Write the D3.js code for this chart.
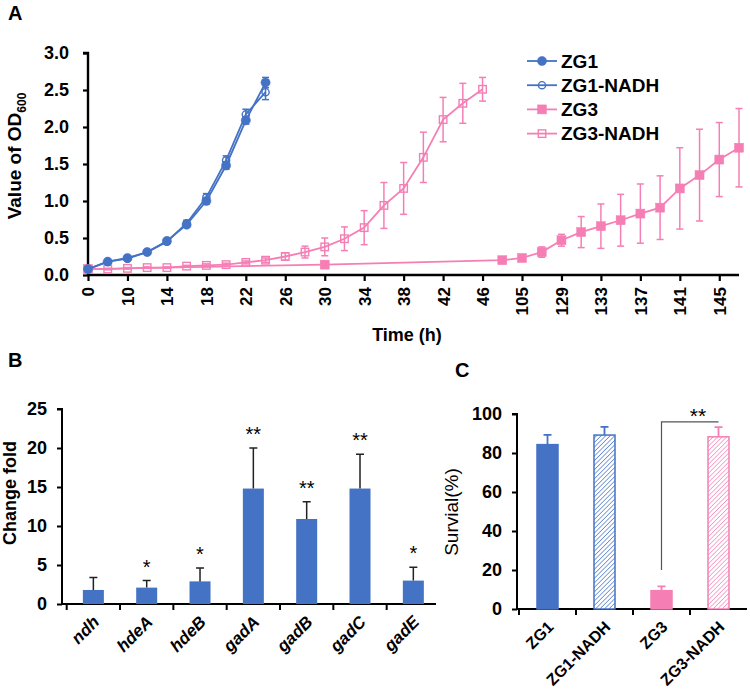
<!DOCTYPE html>
<html><head><meta charset="utf-8">
<script src="https://cdn.jsdelivr.net/npm/d3@7"></script>
<style>
html,body{margin:0;padding:0;background:#fff;}
svg text{font-family:"Liberation Sans",Arial,Helvetica,sans-serif;}
</style></head>
<body><svg id="c" width="750" height="700"></svg>
<script>
// ---------- Panel A data ----------
const timeCats = ["0","6","10","12","14","16","18","20","22","24","26","28","30","32","34","36","38","40","42","44","46","48","105","117","129","131","133","135","137","139","141","143","145","147"];
const timeTickLabels = ["0","10","14","18","22","26","30","34","38","42","46","105","129","133","137","141","145"];
const yTicksA = [0,0.5,1.0,1.5,2.0,2.5,3.0];

const zg1Times = ["0","6","10","12","14","16","18","20","22","24"];
const zg1Vals  = [0.08,0.18,0.23,0.31,0.46,0.68,1.00,1.48,2.09,2.60];
const zg1Err   = [0.01,0.02,0.02,0.02,0.03,0.03,0.04,0.05,0.05,0.07];
const zg1nVals = [0.08,0.18,0.22,0.31,0.45,0.70,1.05,1.55,2.17,2.47];
const zg1nErr  = [0.01,0.02,0.02,0.02,0.03,0.04,0.05,0.06,0.07,0.10];

const zg3nTimes = ["0","6","10","12","14","16","18","20","22","24","26","28","30","32","34","36","38","40","42","44","46"];
const zg3nVals  = [0.08,0.08,0.09,0.10,0.10,0.12,0.13,0.14,0.17,0.20,0.25,0.31,0.38,0.49,0.64,0.94,1.17,1.59,2.10,2.32,2.51];
const zg3nErr   = [0.01,0.01,0.01,0.01,0.01,0.01,0.02,0.02,0.02,0.03,0.05,0.08,0.12,0.16,0.23,0.31,0.35,0.34,0.30,0.27,0.16];

const zg3Times = ["0","30","48","105","117","129","131","133","135","137","139","141","143","145","147"];
const zg3Vals  = [0.08,0.14,0.20,0.23,0.31,0.47,0.58,0.66,0.74,0.83,0.91,1.17,1.35,1.56,1.72];
const zg3Err   = [0.01,0.01,0.01,0.02,0.07,0.08,0.21,0.30,0.35,0.40,0.43,0.55,0.62,0.50,0.53];

const seriesNames = ["ZG1","ZG1-NADH","ZG3","ZG3-NADH"];

// ---------- Panel B data ----------
const genes = ["ndh","hdeA","hdeB","gadA","gadB","gadC","gadE"];
const foldVals = [1.8,2.1,2.9,14.8,10.9,14.8,3.0];
const foldErr  = [1.6,0.9,1.7,5.2,2.2,4.4,1.7];
const foldSig  = ["","*","*","**","**","**","*"];
const yTicksB = [0,5,10,15,20,25];

// ---------- Panel C data ----------
const strains = ["ZG1","ZG1-NADH","ZG3","ZG3-NADH"];
const survVals = [84.3,89.2,9.4,88.3];
const survErr  = [5.0,4.2,2.2,5.0];
const yTicksC = [0,20,40,60,80,100];
const survSigPair = ["ZG3","ZG3-NADH"];
const survSigLabel = "**";
const survSigLevels = [20,96];

// ---------- styles ----------
const BLUE = "#4472C4";
const PINK = "#F57FB5";
const FONT_BOLD = 700;

const svg = d3.select("#c");
const defs = svg.append("defs");
function hatch(id, color){
  const p = defs.append("pattern").attr("id",id).attr("patternUnits","userSpaceOnUse")
    .attr("width",3.2).attr("height",3.2).attr("patternTransform","rotate(45)");
  p.append("rect").attr("width",3.2).attr("height",3.2).attr("fill","#fff");
  p.append("line").attr("x1",0).attr("y1",0).attr("x2",0).attr("y2",3.2)
    .attr("stroke",color).attr("stroke-width",1.3);
}
hatch("hatchBlue", BLUE);
hatch("hatchPink", PINK);

// ================= PANEL A =================
const xA = d3.scalePoint().domain(timeCats).range([88,739]).padding(0);
const yA = d3.scaleLinear().domain([0,3]).range([275,53]);
const gA = svg.append("g");

const axAy = d3.axisLeft(yA).tickValues(yTicksA).tickFormat(d3.format(".1f")).tickSize(5).tickPadding(14);
const gAy = gA.append("g").attr("transform","translate(88,0)").call(axAy);
gAy.select(".domain").attr("stroke","#000").attr("stroke-width",2.4).attr("d","M-5,"+yA(3)+"H0V"+yA(0));
gAy.selectAll(".tick line").attr("stroke","#000").attr("stroke-width",2.2);
gAy.selectAll(".tick text").attr("font-size",18).attr("font-weight",FONT_BOLD).attr("fill","#000");

const axAx = d3.axisBottom(xA).tickValues(timeTickLabels).tickSize(6).tickSizeOuter(0);
const gAx = gA.append("g").attr("transform","translate(0,275)").call(axAx);
gAx.select(".domain").attr("stroke","#000").attr("stroke-width",2.4).attr("d","M88,0H739");
gAx.selectAll(".tick line").attr("stroke","#000").attr("stroke-width",2.2);
gAx.selectAll(".tick text").attr("font-size",17).attr("font-weight",FONT_BOLD).attr("fill","#000")
  .attr("transform","rotate(-90)").attr("text-anchor","end").attr("dy","0.35em")
  .attr("x",-12).attr("y",0);

const yl = gA.append("text").attr("transform","translate(21,156) rotate(-90)")
  .attr("text-anchor","middle").attr("font-size",19).attr("font-weight",FONT_BOLD);
yl.append("tspan").text("Value of OD");
yl.append("tspan").attr("font-size",12).attr("dy",5).text("600");

gA.append("text").attr("x",407).attr("y",341).attr("text-anchor","middle")
  .attr("font-size",18).attr("font-weight",FONT_BOLD).text("Time (h)");

gA.append("text").attr("x",8).attr("y",20).attr("font-size",20).attr("font-weight",FONT_BOLD).text("A");

function drawSeries(times, vals, errs, color, marker, open){
  const pts = times.map((t,i)=>({x:xA(t), y:yA(vals[i]), lo:yA(vals[i]-errs[i]), hi:yA(vals[i]+errs[i])}));
  const g = gA.append("g");
  g.append("path").datum(pts).attr("fill","none").attr("stroke",color).attr("stroke-width",1.8)
    .attr("d", d3.line().x(d=>d.x).y(d=>d.y));
  const eb = g.selectAll(".eb").data(pts).enter().append("g");
  eb.append("line").attr("x1",d=>d.x).attr("x2",d=>d.x).attr("y1",d=>d.lo).attr("y2",d=>d.hi)
    .attr("stroke",color).attr("stroke-width",1.5);
  eb.append("line").attr("x1",d=>d.x-3.5).attr("x2",d=>d.x+3.5).attr("y1",d=>d.hi).attr("y2",d=>d.hi)
    .attr("stroke",color).attr("stroke-width",1.5);
  eb.append("line").attr("x1",d=>d.x-3.5).attr("x2",d=>d.x+3.5).attr("y1",d=>d.lo).attr("y2",d=>d.lo)
    .attr("stroke",color).attr("stroke-width",1.5);
  drawMarkers(g, pts, color, marker, open);
}
function drawMarkers(g, pts, color, marker, open){
  if(marker==="circle"){
    g.selectAll(".mk").data(pts).enter().append("circle").attr("cx",d=>d.x).attr("cy",d=>d.y)
      .attr("r", open?3.6:4.6).attr("fill", open?"none":color).attr("stroke",color).attr("stroke-width",open?1.4:0.5);
  } else {
    const s = open?7.5:9;
    g.selectAll(".mk").data(pts).enter().append("rect").attr("x",d=>d.x-s/2).attr("y",d=>d.y-s/2)
      .attr("width",s).attr("height",s).attr("fill", open?"none":color).attr("stroke",color).attr("stroke-width",open?1.4:0.5);
  }
}
drawSeries(zg3Times, zg3Vals, zg3Err, PINK, "square", false);
drawSeries(zg3nTimes, zg3nVals, zg3nErr, PINK, "square", true);
drawSeries(zg1Times, zg1nVals, zg1nErr, BLUE, "circle", true);
drawSeries(zg1Times, zg1Vals, zg1Err, BLUE, "circle", false);

const legSpec = [[BLUE,"circle",false],[BLUE,"circle",true],[PINK,"square",false],[PINK,"square",true]];
const leg = gA.append("g");
seriesNames.forEach((n,i)=>{
  const y = 61 + i*24.2;
  const [c,m,o] = legSpec[i];
  leg.append("line").attr("x1",527).attr("x2",557).attr("y1",y).attr("y2",y).attr("stroke",c).attr("stroke-width",1.8);
  drawMarkers(leg, [{x:542,y:y}], c, m, o);
  leg.append("text").attr("x",561).attr("y",y).attr("dy","0.36em").attr("font-size",19)
    .attr("font-weight",FONT_BOLD).text(n);
});

// ================= PANEL B =================
const gB = svg.append("g");
const yB = d3.scaleLinear().domain([0,25]).range([604,409]);
const axBy = d3.axisLeft(yB).tickValues(yTicksB).tickSize(5).tickPadding(10);
const gBy = gB.append("g").attr("transform","translate(62,0)").call(axBy);
gBy.select(".domain").attr("stroke","#000").attr("stroke-width",2).attr("d","M-5,"+yB(25)+"H0V"+yB(0));
gBy.selectAll(".tick line").attr("stroke","#000").attr("stroke-width",2);
gBy.selectAll(".tick text").attr("font-size",18).attr("font-weight",FONT_BOLD).attr("fill","#000");

const bandB = d3.scaleBand().domain(genes).range([66.7,440]);
const gBx = gB.append("g").attr("transform","translate(0,604)");
gBx.append("line").attr("x1",62).attr("x2",436).attr("stroke","#000").attr("stroke-width",2);
gBx.selectAll(".tk").data(genes).enter().append("line")
  .attr("x1",d=>bandB(d)).attr("x2",d=>bandB(d)).attr("y1",0).attr("y2",6).attr("stroke","#000").attr("stroke-width",2);
gBx.selectAll(".lb").data(genes).enter().append("text")
  .attr("transform",d=>`translate(${bandB(d)+bandB.bandwidth()/2+7},19) rotate(-45)`)
  .attr("text-anchor","end").attr("font-size",17).attr("font-weight",FONT_BOLD).attr("font-style","italic").text(d=>d);

const bw = 21;
const cB = d=>bandB(d)+bandB.bandwidth()/2;
gB.selectAll(".bar").data(genes).enter().append("rect")
  .attr("x",d=>cB(d)-bw/2).attr("width",bw)
  .attr("y",(d,i)=>yB(foldVals[i])).attr("height",(d,i)=>yB(0)-yB(foldVals[i])).attr("fill",BLUE);
gB.selectAll(".eb").data(genes).enter().append("path")
  .attr("d",(d,i)=>`M${cB(d)},${yB(foldVals[i])}V${yB(foldVals[i]+foldErr[i])}M${cB(d)-4},${yB(foldVals[i]+foldErr[i])}H${cB(d)+4}`)
  .attr("stroke","#222").attr("stroke-width",1.5).attr("fill","none");
gB.selectAll(".sig").data(genes).enter().append("text")
  .attr("x",d=>cB(d)).attr("y",(d,i)=>yB(foldVals[i]+foldErr[i])-7)
  .attr("text-anchor","middle").attr("font-size",20).text((d,i)=>foldSig[i]);

gB.append("text").attr("transform","translate(16,493) rotate(-90)").attr("text-anchor","middle")
  .attr("font-size",18).attr("font-weight",FONT_BOLD).text("Change fold");
gB.append("text").attr("x",8).attr("y",367).attr("font-size",20).attr("font-weight",FONT_BOLD).text("B");

// ================= PANEL C =================
const gC = svg.append("g");
const xC = d3.scaleBand().domain(strains).range([519,747]);
const yC = d3.scaleLinear().domain([0,100]).range([609,414]);
const axCy = d3.axisLeft(yC).tickValues(yTicksC).tickSize(5).tickPadding(10);
const gCy = gC.append("g").attr("transform","translate(517,0)").call(axCy);
gCy.select(".domain").attr("stroke","#000").attr("stroke-width",2).attr("d","M-5,"+yC(100)+"H0V"+yC(0));
gCy.selectAll(".tick line").attr("stroke","#000").attr("stroke-width",2);
gCy.selectAll(".tick text").attr("font-size",18).attr("font-weight",FONT_BOLD).attr("fill","#000");

const gCx = gC.append("g").attr("transform","translate(0,609)");
gCx.append("line").attr("x1",517).attr("x2",747).attr("stroke","#000").attr("stroke-width",2);
gCx.selectAll(".tk").data(strains).enter().append("line")
  .attr("x1",d=>xC(d)).attr("x2",d=>xC(d)).attr("y1",0).attr("y2",6).attr("stroke","#000").attr("stroke-width",2);
const cC = d=>xC(d)+xC.bandwidth()/2;
gCx.selectAll(".lb").data(strains).enter().append("text")
  .attr("transform",d=>`translate(${cC(d)+7},19) rotate(-45)`)
  .attr("text-anchor","end").attr("font-size",16).attr("font-weight",FONT_BOLD).text(d=>d);

const fills = ["#4472C4","url(#hatchBlue)","#F57FB5","url(#hatchPink)"];
const strokes = [BLUE,BLUE,PINK,PINK];
gC.selectAll(".bar").data(strains).enter().append("rect")
  .attr("x",d=>cC(d)-10.5).attr("width",21)
  .attr("y",(d,i)=>yC(survVals[i])).attr("height",(d,i)=>yC(0)-yC(survVals[i]))
  .attr("fill",(d,i)=>fills[i]).attr("stroke",(d,i)=>strokes[i]).attr("stroke-width",1.5);
gC.selectAll(".eb").data(strains).enter().append("path")
  .attr("d",(d,i)=>`M${cC(d)},${yC(survVals[i])}V${yC(survVals[i]+survErr[i])}M${cC(d)-4},${yC(survVals[i]+survErr[i])}H${cC(d)+4}`)
  .attr("stroke",(d,i)=>strokes[i]).attr("stroke-width",1.8).attr("fill","none");
const bx1 = cC(survSigPair[0]), bx2 = cC(survSigPair[1]);
gC.append("path").attr("d",`M${bx1},${yC(survSigLevels[0])}V${yC(survSigLevels[1])}H${bx2}`)
  .attr("stroke","#555").attr("stroke-width",1.2).attr("fill","none");
gC.append("text").attr("x",(bx1+bx2)/2+8).attr("y",yC(survSigLevels[1])+1).attr("text-anchor","middle")
  .attr("font-size",21).text(survSigLabel);

gC.append("text").attr("transform","translate(458,512) rotate(-90)").attr("text-anchor","middle")
  .attr("font-size",19).text("Survial(%)");
gC.append("text").attr("x",455).attr("y",377).attr("font-size",20).attr("font-weight",FONT_BOLD).text("C");
</script></body></html>
